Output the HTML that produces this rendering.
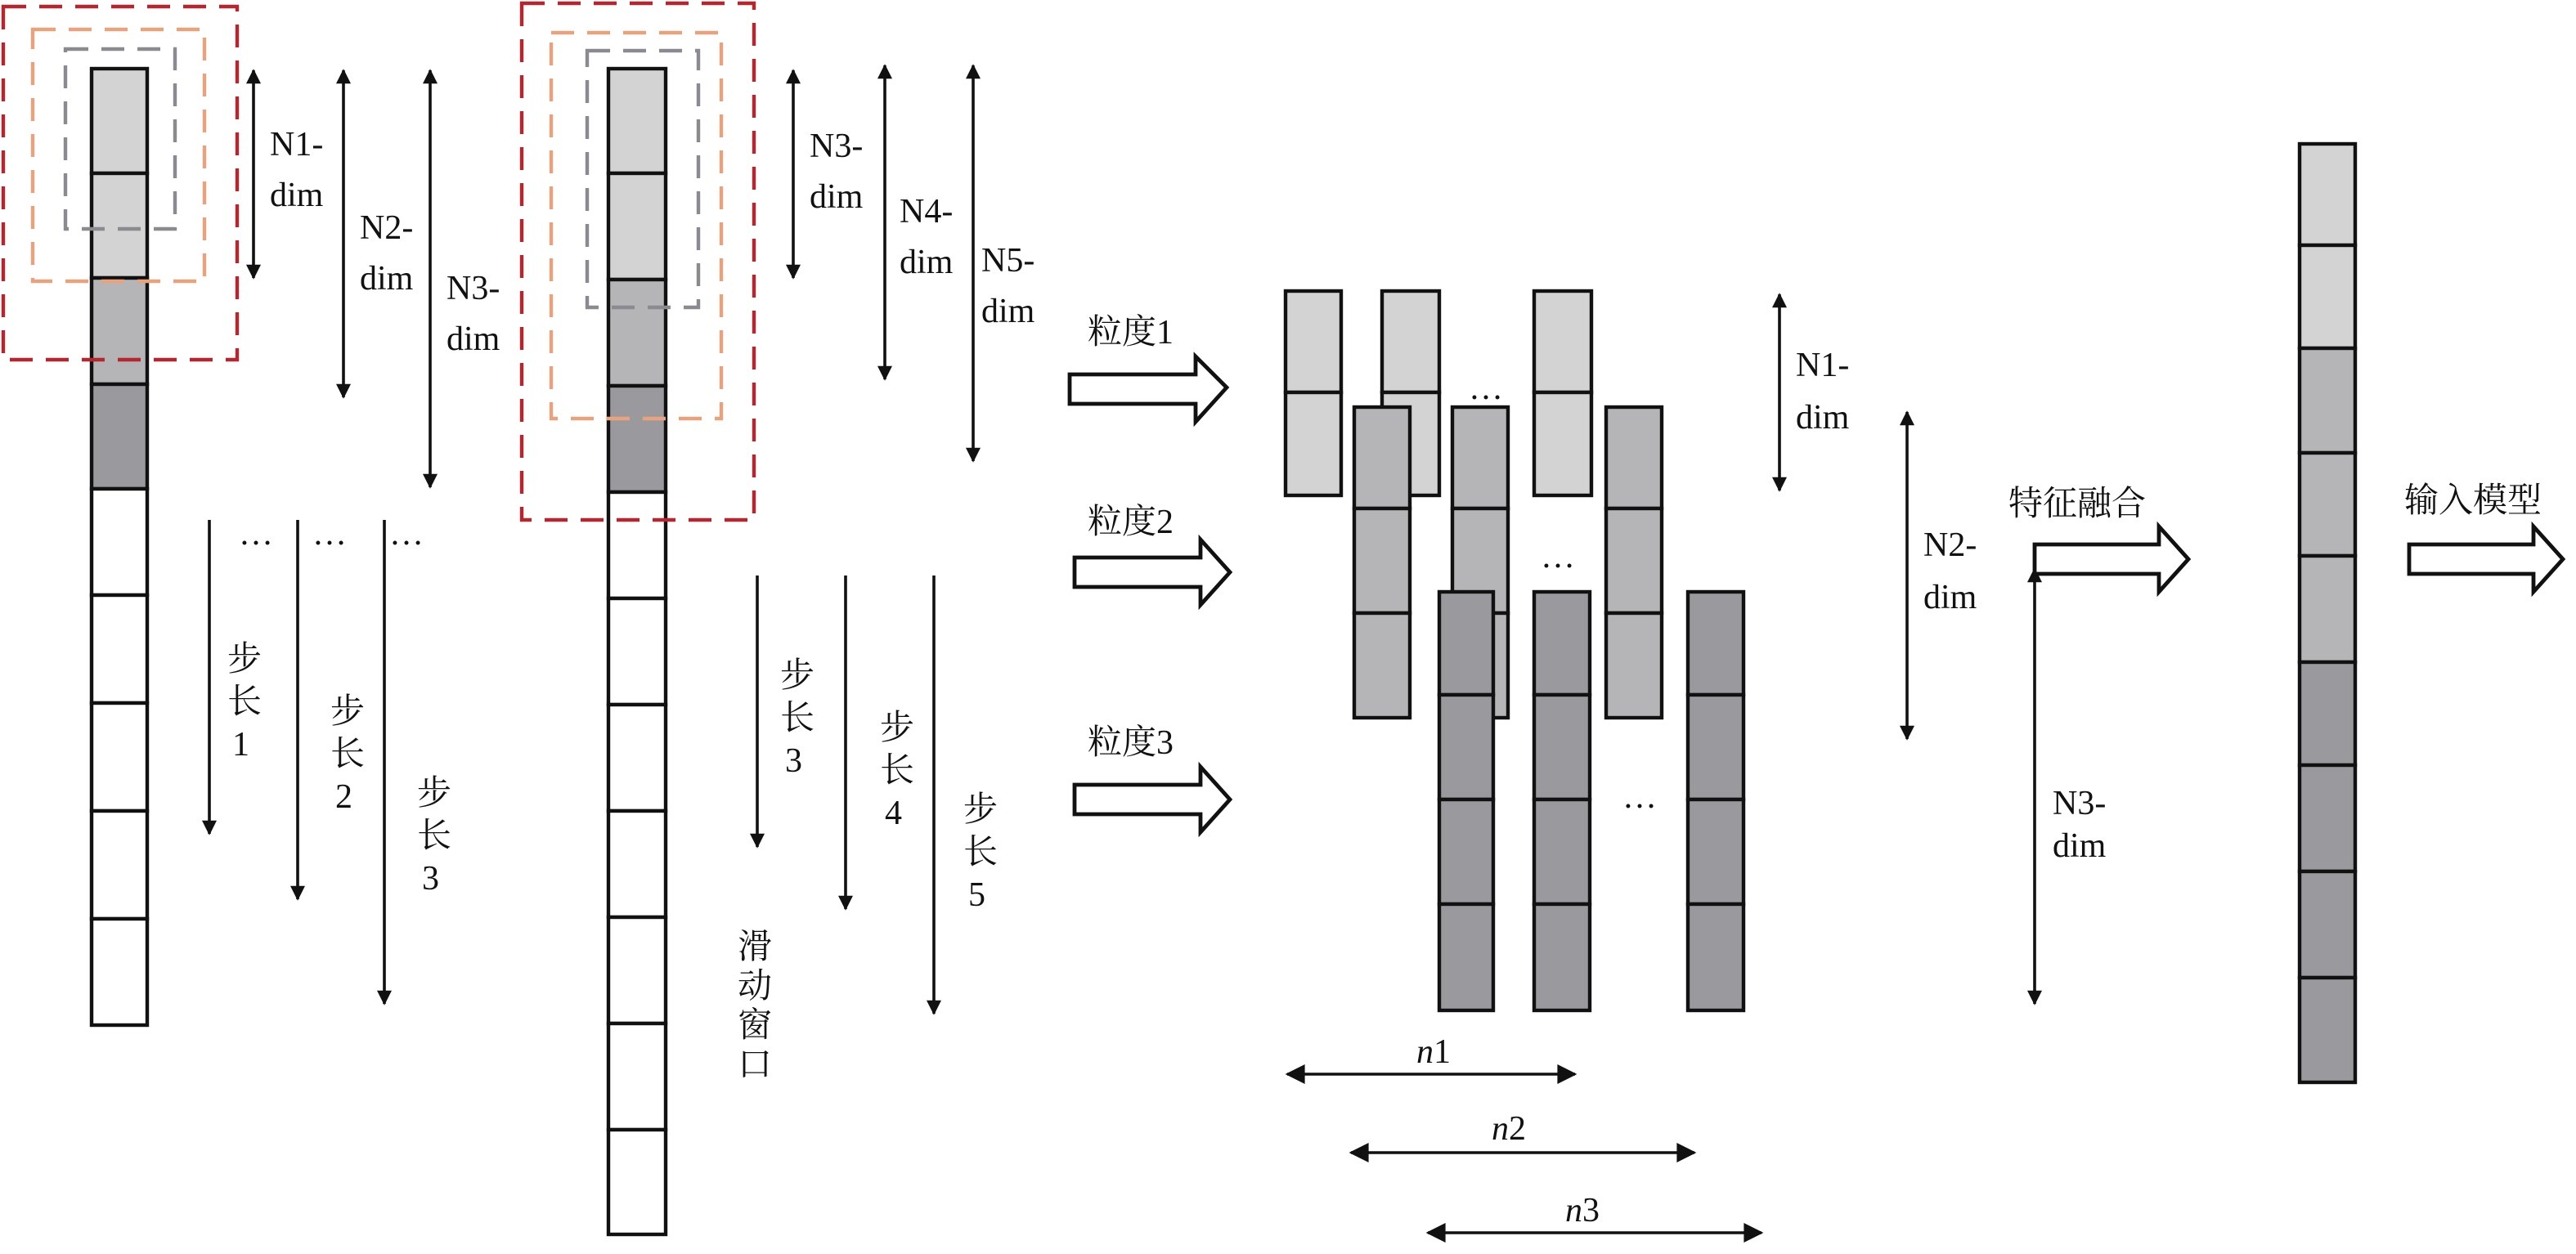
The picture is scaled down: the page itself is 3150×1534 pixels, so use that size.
<!DOCTYPE html>
<html><head><meta charset="utf-8"><style>
html,body{margin:0;padding:0;background:#fff;}
svg{display:block;}
text{font-family:"Liberation Serif","Noto Serif CJK SC","Noto Sans CJK SC",serif;font-size:21px;fill:#111;}
</style></head><body>
<svg width="3150" height="1534" viewBox="0 0 1575 767" xmlns="http://www.w3.org/2000/svg">
<defs>
<marker id="ah" viewBox="0 0 10 10" refX="9" refY="5" markerWidth="14" markerHeight="9" markerUnits="userSpaceOnUse" orient="auto-start-reverse">
<path d="M0,0 L10,5 L0,10 z" fill="#111"/></marker>
<marker id="a2" viewBox="0 0 10 10" refX="9" refY="5" markerWidth="15" markerHeight="12" markerUnits="userSpaceOnUse" orient="auto-start-reverse">
<path d="M0,0 L10,5 L0,10 z" fill="#111"/></marker>
</defs>
<g stroke="#111" stroke-width="2.2">
<rect x="56" y="42" width="34" height="64" fill="#d3d3d3"/>
<rect x="56" y="106" width="34" height="64" fill="#d3d3d3"/>
<rect x="56" y="170" width="34" height="65" fill="#b5b4b7"/>
<rect x="56" y="235" width="34" height="64" fill="#9a9a9e"/>
<rect x="56" y="299" width="34" height="65" fill="#fff"/>
<rect x="56" y="364" width="34" height="66" fill="#fff"/>
<rect x="56" y="430" width="34" height="66" fill="#fff"/>
<rect x="56" y="496" width="34" height="66" fill="#fff"/>
<rect x="56" y="562" width="34" height="65" fill="#fff"/>
<rect x="372" y="42" width="35" height="64" fill="#d3d3d3"/>
<rect x="372" y="106" width="35" height="65" fill="#d3d3d3"/>
<rect x="372" y="171" width="35" height="65" fill="#b5b4b7"/>
<rect x="372" y="236" width="35" height="65" fill="#9a9a9e"/>
<rect x="372" y="301" width="35" height="65" fill="#fff"/>
<rect x="372" y="366" width="35" height="65" fill="#fff"/>
<rect x="372" y="431" width="35" height="65" fill="#fff"/>
<rect x="372" y="496" width="35" height="65" fill="#fff"/>
<rect x="372" y="561" width="35" height="65" fill="#fff"/>
<rect x="372" y="626" width="35" height="65" fill="#fff"/>
<rect x="372" y="691" width="35" height="64" fill="#fff"/>
</g>
<g fill="none" stroke-width="2.2" stroke-dasharray="14,8">
<rect x="2" y="4" width="143" height="216" stroke="#b5262f"/>
<rect x="20" y="18" width="105" height="154" stroke="#e8a27e"/>
<rect x="40" y="30" width="67" height="110" stroke="#8a8a90"/>
<rect x="319" y="2" width="142" height="316" stroke="#b5262f"/>
<rect x="337" y="20" width="104" height="236" stroke="#e8a27e"/>
<rect x="359" y="31" width="68" height="157" stroke="#8a8a90"/>
</g>
<g stroke="#111" stroke-width="1.8" marker-start="url(#ah)" marker-end="url(#ah)">
<line x1="155" y1="43" x2="155" y2="170"/>
<line x1="210" y1="43" x2="210" y2="243"/>
<line x1="263" y1="43" x2="263" y2="298"/>
<line x1="485" y1="43" x2="485" y2="170"/>
<line x1="541" y1="40" x2="541" y2="232"/>
<line x1="595" y1="40" x2="595" y2="282"/>
<line x1="1088" y1="180" x2="1088" y2="300"/>
<line x1="1166" y1="252" x2="1166" y2="452"/>
<line x1="1244" y1="348" x2="1244" y2="614"/>
</g>
<g stroke="#111" stroke-width="1.8" marker-end="url(#ah)">
<line x1="128" y1="318" x2="128" y2="510"/>
<line x1="182" y1="318" x2="182" y2="550"/>
<line x1="235" y1="318" x2="235" y2="614"/>
<line x1="463" y1="352" x2="463" y2="518"/>
<line x1="517" y1="352" x2="517" y2="556"/>
<line x1="571" y1="352" x2="571" y2="620"/>
</g>
<g stroke="#111" stroke-width="1.8" marker-start="url(#a2)" marker-end="url(#a2)">
<line x1="787" y1="657" x2="963" y2="657"/>
<line x1="826" y1="705" x2="1036" y2="705"/>
<line x1="873" y1="754" x2="1077" y2="754"/>
</g>
<text x="165" y="95">N1-</text><text x="165" y="126">dim</text>
<text x="220" y="146">N2-</text><text x="220" y="177">dim</text>
<text x="273" y="183">N3-</text><text x="273" y="214">dim</text>
<text x="495" y="96">N3-</text><text x="495" y="127">dim</text>
<text x="550" y="136">N4-</text><text x="550" y="167">dim</text>
<text x="600" y="166">N5-</text><text x="600" y="197">dim</text>
<text x="1098" y="230">N1-</text><text x="1098" y="262">dim</text>
<text x="1176" y="340">N2-</text><text x="1176" y="372">dim</text>
<text x="1255" y="498">N3-</text><text x="1255" y="524">dim</text>
<text x="146" y="333" font-size="14">…</text>
<text x="191" y="333" font-size="14">…</text>
<text x="238" y="333" font-size="14">…</text>
<text x="139" y="410">步</text><text x="139" y="436">长</text><text x="142" y="462">1</text>
<text x="202" y="442">步</text><text x="202" y="468">长</text><text x="205" y="494">2</text>
<text x="255" y="492">步</text><text x="255" y="518">长</text><text x="258" y="544">3</text>
<text x="477" y="420">步</text><text x="477" y="446">长</text><text x="480" y="472">3</text>
<text x="538" y="452">步</text><text x="538" y="478">长</text><text x="541" y="504">4</text>
<text x="589" y="502">步</text><text x="589" y="528">长</text><text x="592" y="554">5</text>
<text x="451" y="586">滑</text><text x="451" y="610">动</text><text x="451" y="634">窗</text><text x="451" y="658">口</text>
<text x="665" y="210">粒度1</text>
<text x="665" y="326">粒度2</text>
<text x="665" y="461">粒度3</text>
<text x="1228" y="315">特征融合</text>
<text x="1470" y="313">输入模型</text>
<text x="866" y="650" font-style="italic">n<tspan font-style="normal">1</tspan></text>
<text x="912" y="697" font-style="italic">n<tspan font-style="normal">2</tspan></text>
<text x="957" y="747" font-style="italic">n<tspan font-style="normal">3</tspan></text>
<g fill="#fff" stroke="#111" stroke-width="2.4" stroke-linejoin="miter">
<path d="M654,229 H731 V218 L750,237 L731,258 V247 H654 Z"/>
<path d="M657,341 H734 V330 L752,350 L734,370 V359 H657 Z"/>
<path d="M657,480 H734 V469 L752,489 L734,509 V498 H657 Z"/>
<path d="M1244,333 H1320 V322 L1338,342 L1320,362 V351 H1244 Z"/>
<path d="M1473,333 H1549 V322 L1567,342 L1549,362 V351 H1473 Z"/>
</g>
<g stroke="#111" stroke-width="2.2">
<g fill="#d3d3d3">
<rect x="786" y="178" width="34" height="62"/><rect x="786" y="240" width="34" height="63"/>
<rect x="845" y="178" width="35" height="62"/><rect x="845" y="240" width="35" height="63"/>
<rect x="938" y="178" width="35" height="62"/><rect x="938" y="240" width="35" height="63"/>
</g>
<g fill="#b5b4b7">
<rect x="828" y="249" width="34" height="62"/><rect x="828" y="311" width="34" height="64"/><rect x="828" y="375" width="34" height="64"/>
<rect x="888" y="249" width="34" height="62"/><rect x="888" y="311" width="34" height="64"/><rect x="888" y="375" width="34" height="64"/>
<rect x="982" y="249" width="34" height="62"/><rect x="982" y="311" width="34" height="64"/><rect x="982" y="375" width="34" height="64"/>
</g>
<g fill="#9a9a9e">
<rect x="880" y="362" width="33" height="63"/><rect x="880" y="425" width="33" height="64"/><rect x="880" y="489" width="33" height="64"/><rect x="880" y="553" width="33" height="65"/>
<rect x="938" y="362" width="34" height="63"/><rect x="938" y="425" width="34" height="64"/><rect x="938" y="489" width="34" height="64"/><rect x="938" y="553" width="34" height="65"/>
<rect x="1032" y="362" width="34" height="63"/><rect x="1032" y="425" width="34" height="64"/><rect x="1032" y="489" width="34" height="64"/><rect x="1032" y="553" width="34" height="65"/>
</g>
<rect x="1406" y="88" width="34" height="62" fill="#d3d3d3"/>
<rect x="1406" y="150" width="34" height="63" fill="#d3d3d3"/>
<rect x="1406" y="213" width="34" height="64" fill="#b5b4b7"/>
<rect x="1406" y="277" width="34" height="63" fill="#b5b4b7"/>
<rect x="1406" y="340" width="34" height="65" fill="#b5b4b7"/>
<rect x="1406" y="405" width="34" height="63" fill="#9a9a9e"/>
<rect x="1406" y="468" width="34" height="65" fill="#9a9a9e"/>
<rect x="1406" y="533" width="34" height="65" fill="#9a9a9e"/>
<rect x="1406" y="598" width="34" height="64" fill="#9a9a9e"/>
</g>
<text x="898" y="244" font-size="14">…</text>
<text x="942" y="347" font-size="14">…</text>
<text x="992" y="494" font-size="14">…</text>
</svg>
</body></html>
